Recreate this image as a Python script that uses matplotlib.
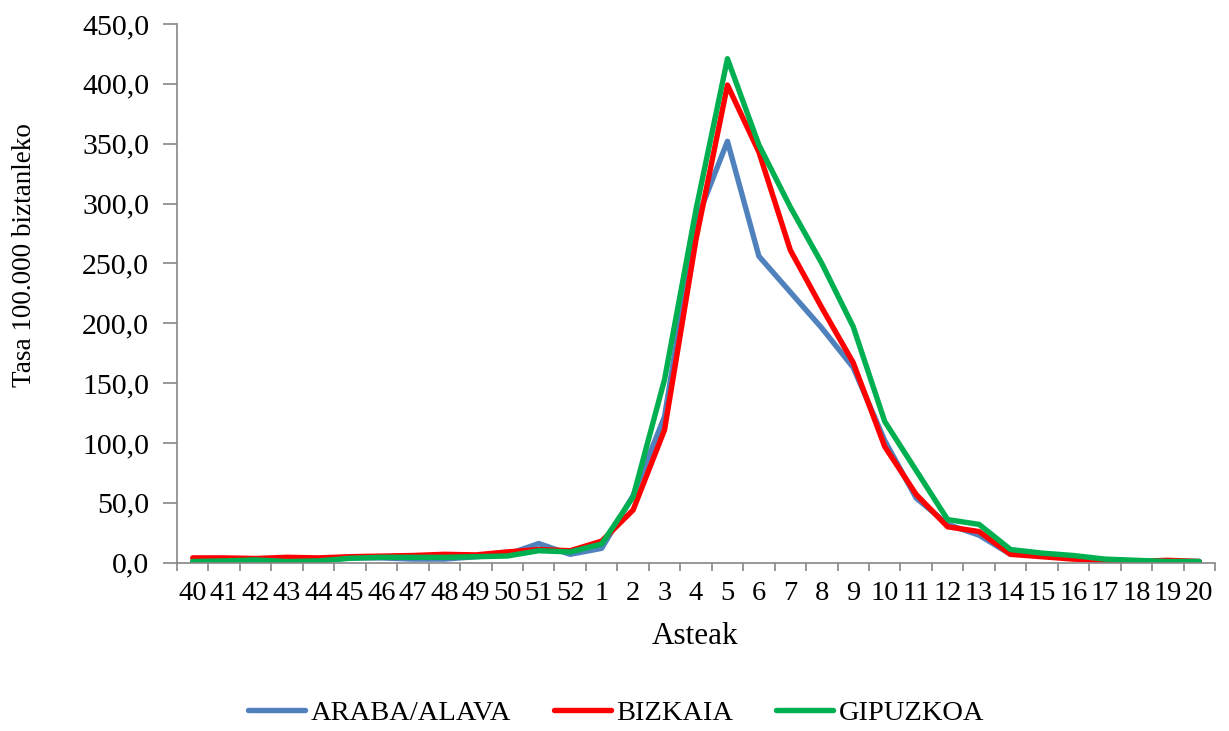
import matplotlib
matplotlib.use('Agg')
import matplotlib.pyplot as plt
from matplotlib.ticker import FixedLocator, FuncFormatter, NullFormatter

plt.rcParams['font.family'] = ['Liberation Serif', 'DejaVu Serif']

weeks = ['40', '41', '42', '43', '44', '45', '46', '47', '48', '49', '50', '51', '52',
         '1', '2', '3', '4', '5', '6', '7', '8', '9', '10', '11', '12', '13', '14',
         '15', '16', '17', '18', '19', '20']

araba = [1, 0.5, 3, 2, 2, 4, 4, 3, 3, 5, 7, 16, 7,
         12, 56, 122, 285, 352, 256, 226, 196, 163, 102, 54, 32, 23, 7,
         7, 4, 1, 1, 1, 1]
bizkaia = [4, 4, 3.5, 4.5, 4, 5, 5.5, 6, 7, 6.5, 9, 11, 10,
           18, 44, 111, 270, 399, 343, 261, 213, 167, 97, 57, 30, 26, 7,
           5, 3, 2, 1, 2, 1]
gipuzkoa = [1, 1.5, 2.3, 1, 1.5, 3.7, 4.5, 4.5, 4.5, 5, 5.6, 10, 9,
            15.6, 55, 153, 295, 421, 349, 297, 250, 197, 118, 77, 36, 32, 11,
            8, 6, 3, 2, 1, 1]

series = [('ARABA/ALAVA', araba, '#4F81BD'),
          ('BIZKAIA', bizkaia, '#FF0000'),
          ('GIPUZKOA', gipuzkoa, '#00B050')]

fig = plt.figure(figsize=(12.29, 7.31), dpi=100)
ax = fig.add_axes([177/1229, 1 - 562.7/731, (1215-177)/1229, (562.7-24)/731])

x = list(range(len(weeks)))
for name, vals, col in series:
    ax.plot(x, vals, color=col, lw=3.9, label=name,
            solid_capstyle='round', solid_joinstyle='round')

ax.set_xlim(-0.5, len(weeks) - 0.5)
ax.set_ylim(0, 450)

# y axis
ax.yaxis.set_major_locator(FixedLocator(range(0, 451, 50)))
ax.yaxis.set_major_formatter(FuncFormatter(lambda v, p: f'{v:.1f}'.replace('.', ',')))
ax.tick_params(axis='y', direction='out', length=10, width=1.2, color='#868686',
               pad=10, labelsize=21.5)

# x axis: ticks between categories, labels on categories
ax.xaxis.set_major_locator(FixedLocator([i - 0.5 for i in range(len(weeks) + 1)]))
ax.xaxis.set_major_formatter(NullFormatter())
ax.xaxis.set_minor_locator(FixedLocator(x))
ax.set_xticklabels(weeks, minor=True)
ax.tick_params(axis='x', which='major', direction='out', length=6, width=1.2, color='#868686')
ax.tick_params(axis='x', which='minor', length=0, pad=13, labelsize=20.5)

for s in ['top', 'right']:
    ax.spines[s].set_visible(False)
for s in ['left', 'bottom']:
    ax.spines[s].set_color('#868686')
    ax.spines[s].set_linewidth(1.2)

fig.text(695/1229, 1 - 637/731, 'Asteak', ha='center', va='center', fontsize=22.5)
fig.text(25/1229, 1 - 255/731, 'Tasa 100.000 biztanleko', rotation=90,
         ha='center', va='center', fontsize=19.5)

fig.legend(loc='center', bbox_to_anchor=(616/1229, 1 - 713/731), ncol=3, frameon=False,
           fontsize=20.5, handlelength=2.0, handletextpad=0.2, columnspacing=1.5)

fig.savefig('out.png', dpi=100)
